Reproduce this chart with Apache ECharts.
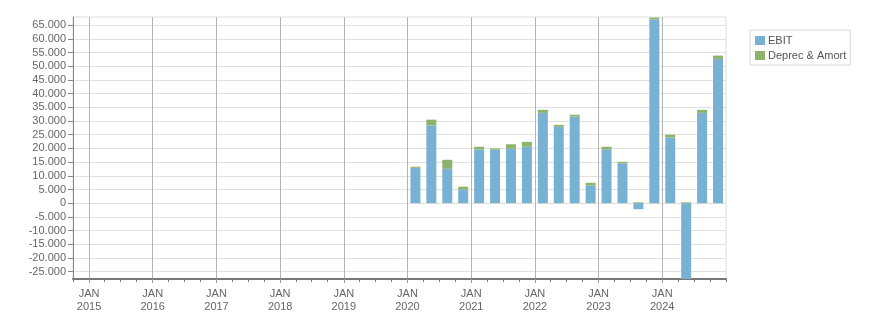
<!DOCTYPE html>
<html>
<head>
<meta charset="utf-8">
<script src="https://cdn.jsdelivr.net/npm/echarts@6/dist/echarts.min.js"></script>
<style>
html,body{margin:0;padding:0;background:#fff;}
#c{width:876px;height:313px;}
</style>
</head>
<body>
<div id="c"></div>
<script>
// Reported quarters
const quarters = ['2020 Q1','2020 Q2','2020 Q3','2020 Q4',
                  '2021 Q1','2021 Q2','2021 Q3','2021 Q4',
                  '2022 Q1','2022 Q2','2022 Q3','2022 Q4',
                  '2023 Q1','2023 Q2','2023 Q3','2023 Q4',
                  '2024 Q1','2024 Q2','2024 Q3','2024 Q4'];
const ebit = [12900, 28400, 12550, 5000, 19600, 19600, 19900, 20600,
              33000, 27900, 31600, 6450, 19600, 14500, -2200, 67100,
              24000, -27700, 33000, 52700];
const deprec = [400, 2100, 3300, 1000, 1000, 400, 1600, 1800,
                1100, 700, 700, 1000, 1000, 600, 300, 700,
                1000, 300, 1100, 1200];
const years = [2015, 2016, 2017, 2018, 2019, 2020, 2021, 2022, 2023, 2024];
const yTicks = [-25000,-20000,-15000,-10000,-5000,0,5000,10000,15000,20000,25000,30000,35000,40000,45000,50000,55000,60000,65000];

// Full quarter band axis: 2014 Q4 .. 2024 Q4
const allQuarters = ['2014 Q4'];
years.forEach(y => { for (let q = 1; q <= 4; q++) allQuarters.push(y + ' Q' + q); });
const ebitFull = allQuarters.map(q => { const i = quarters.indexOf(q); return i < 0 ? '-' : ebit[i]; });
const deprecFull = allQuarters.map(q => { const i = quarters.indexOf(q); return i < 0 ? '-' : deprec[i]; });

const xMin = Date.UTC(2014, 9, 1);
const xMax = Date.UTC(2025, 0, 1);
const yearTicks = years.map(y => Date.UTC(y, 0, 1));
const quarterTicks = [];
for (let y = 2014; y <= 2025; y++) {
  for (let m = 0; m < 12; m += 3) {
    const t = Date.UTC(y, m, 1);
    if (t >= xMin && t <= xMax) quarterTicks.push(t);
  }
}

function fmt(v) {
  const s = String(Math.abs(Math.round(v))).replace(/\B(?=(\d{3})+(?!\d))/g, '.');
  return (v < 0 ? '-' : '') + s;
}

const FONT = 'Liberation Sans';
const chart = echarts.init(document.getElementById('c'));
chart.setOption({
  animation: false,
  textStyle: {fontFamily: FONT},
  grid: {left: 73, right: 150, top: 17, bottom: 33, show: true, borderColor: '#dcdcdc', borderWidth: 1},
  legend: {
    orient: 'vertical', left: 750, top: 30,
    itemWidth: 10, itemHeight: 9, itemGap: 4,
    padding: [5, 4, 4, 5],
    borderColor: '#d8d8d8', borderWidth: 1, borderRadius: 0,
    backgroundColor: '#fff',
    icon: 'rect',
    textStyle: {fontFamily: FONT, fontSize: 11, color: '#555', padding: [0,0,0,-2]},
    data: ['EBIT', 'Deprec & Amort']
  },
  xAxis: [{
    type: 'value', min: xMin, max: xMax, position: 'bottom',
    axisLine: {show: true, onZero: false, lineStyle: {color: '#777', width: 2}},
    axisTick: {show: true, customValues: quarterTicks, length: 3, lineStyle: {color: '#777'}},
    axisLabel: {show: false},
    splitLine: {show: false}
  }, {
    type: 'value', min: xMin, max: xMax, position: 'bottom',
    axisLine: {show: false, onZero: false},
    axisTick: {show: true, customValues: yearTicks, length: 4, lineStyle: {color: '#999'}},
    axisLabel: {
      show: true, customValues: yearTicks, margin: 8,
      fontFamily: FONT, fontSize: 11, color: '#666', lineHeight: 13,
      formatter: v => 'JAN\n' + new Date(v).getUTCFullYear()
    },
    splitLine: {show: true, lineStyle: {color: '#b4b4b4', width: 1}}
  }, {
    type: 'category', data: allQuarters, boundaryGap: true, position: 'bottom',
    show: false
  }],
  yAxis: {
    type: 'value', min: -27700, max: 68000,
    axisLine: {show: true, lineStyle: {color: '#888', width: 1}},
    axisTick: {show: true, customValues: yTicks, length: 5, lineStyle: {color: '#888'}},
    axisLabel: {
      customValues: yTicks, margin: 7,
      fontFamily: FONT, fontSize: 11, color: '#666',
      formatter: v => fmt(v)
    },
    splitLine: {show: true, lineStyle: {color: '#e0e0e0', width: 1}}
  },
  series: [{
    name: 'EBIT', type: 'bar', stack: 'a', xAxisIndex: 2, barWidth: 10,
    itemStyle: {color: '#78b1d4'},
    data: ebitFull
  }, {
    name: 'Deprec & Amort', type: 'bar', stack: 'a', xAxisIndex: 2, barWidth: 10,
    itemStyle: {color: '#8cb26c'},
    data: deprecFull
  }]
});
</script>
</body>
</html>
